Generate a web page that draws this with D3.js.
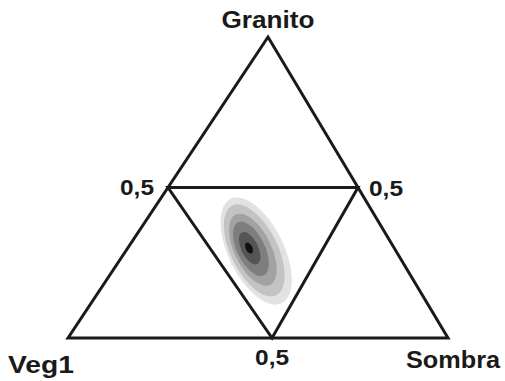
<!DOCTYPE html>
<html>
<head>
<meta charset="utf-8">
<script src="https://cdn.jsdelivr.net/npm/d3@7"></script>
<style>
  body { margin: 0; background: #fff; }
  text { font-family: "Liberation Sans", Arial, sans-serif; font-weight: bold; fill: #1a1a1a; }
</style>
</head>
<body>
<div id="chart"></div>
<script>
// Vertex names of the ternary diagram
const vertices = ["Veg1", "Sombra", "Granito"];

// Inner (0,5) triangle, compositions [Veg1, Sombra, Granito]
const innerPoints = [[0.5, 0, 0.5], [0, 0.5, 0.5], [0.463, 0.537, 0]];
const innerLabels = ["0,5", "0,5", "0,5"];

// Density levels: centre composition [Veg1, Sombra, Granito], semi axes (composition units)
const levelCenters = [[0.368, 0.343, 0.289], [0.372, 0.337, 0.291], [0.374, 0.333, 0.292],
                      [0.377, 0.327, 0.294], [0.380, 0.322, 0.297], [0.382, 0.319, 0.299]];
const levelMajor = [0.193, 0.166, 0.130, 0.098, 0.058, 0.020];
const levelMinor = [0.092, 0.078, 0.061, 0.046, 0.028, 0.011];
const levelAngle = -26; // tilt of the ellipses, degrees

const W = 505, H = 381;

const svg = d3.select("#chart")
    .append("svg")
    .attr("width", W)
    .attr("height", H);

// Corner positions of the big triangle
const corner = {left: [68, 338], right: [448, 338], top: [268, 37]};
const triH = corner.left[1] - corner.top[1];

// composition -> screen
const ternary = c => [
    c[0] * corner.left[0] + c[1] * corner.right[0] + c[2] * corner.top[0],
    c[0] * corner.left[1] + c[1] * corner.right[1] + c[2] * corner.top[1]
];
const unit = d3.scaleLinear().domain([0, 1]).range([0, triH]);
const shade = d3.scaleOrdinal()
    .domain(d3.range(levelMajor.length))
    .range(["#e2e2e2", "#c3c3c3", "#a2a2a2", "#7e7e7e", "#555555", "#111111"]);

// Density ellipses
svg.append("g")
    .selectAll("ellipse")
    .data(levelMajor.map((a, i) => ({a: a, b: levelMinor[i], c: levelCenters[i], i: i})))
    .enter()
    .append("ellipse")
    .attr("transform", d => {
        const p = ternary(d.c);
        return `translate(${p[0]},${p[1]}) rotate(${levelAngle})`;
    })
    .attr("rx", d => unit(d.b))
    .attr("ry", d => unit(d.a))
    .attr("fill", d => shade(d.i));

const line = d3.line().curve(d3.curveLinearClosed);

// Outer triangle
svg.append("path")
    .attr("d", line([corner.left, corner.right, corner.top]))
    .attr("fill", "none")
    .attr("stroke", "#1a1a1a")
    .attr("stroke-width", 3)
    .attr("stroke-linejoin", "miter");

// Inner 0,5 triangle
svg.append("path")
    .attr("d", line(innerPoints.map(ternary)))
    .attr("fill", "none")
    .attr("stroke", "#1a1a1a")
    .attr("stroke-width", 3);

// Tick labels
const tickOffset = [[-14, 7, "end"], [11, 8, "start"], [0, 27, "middle"]];
svg.append("g")
    .selectAll("text")
    .data(innerPoints)
    .enter()
    .append("text")
    .attr("x", (d, i) => ternary(d)[0] + tickOffset[i][0])
    .attr("y", (d, i) => ternary(d)[1] + tickOffset[i][1])
    .attr("text-anchor", (d, i) => tickOffset[i][2])
    .attr("textLength", 34)
    .attr("lengthAdjust", "spacingAndGlyphs")
    .style("font-size", "22px")
    .text((d, i) => innerLabels[i]);

// Vertex labels
const vertexPos = [[8, 373, "start", 66], [500, 368, "end", 94], [268, 28, "middle", 93]];
svg.append("g")
    .selectAll("text")
    .data(vertices)
    .enter()
    .append("text")
    .attr("x", (d, i) => vertexPos[i][0])
    .attr("y", (d, i) => vertexPos[i][1])
    .attr("text-anchor", (d, i) => vertexPos[i][2])
    .attr("textLength", (d, i) => vertexPos[i][3])
    .attr("lengthAdjust", "spacingAndGlyphs")
    .style("font-size", "23px")
    .text(d => d);
</script>
</body>
</html>
